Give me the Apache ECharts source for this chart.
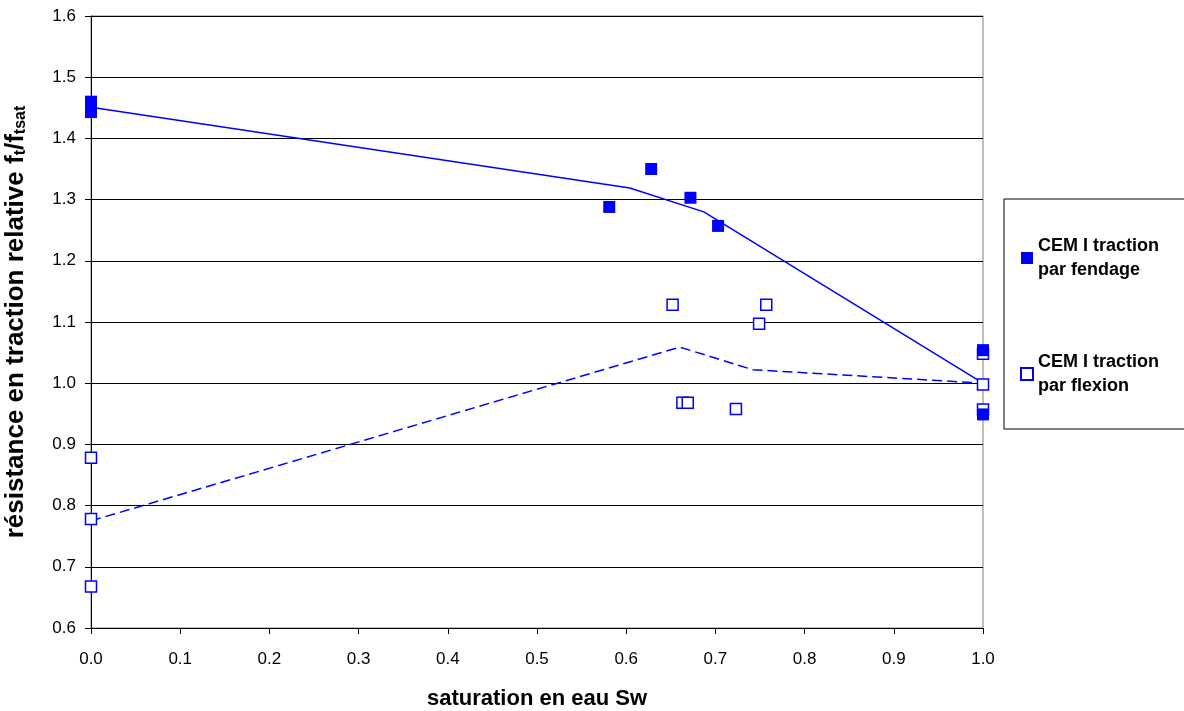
<!DOCTYPE html>
<html>
<head>
<meta charset="utf-8">
<script src="https://cdn.jsdelivr.net/npm/echarts@6/dist/echarts.min.js"></script>
<style>html,body{margin:0;padding:0;background:#fff}#c{width:1184px;height:711px}</style>
</head>
<body>
<div id="c"></div>
<script>
var xTicks = ['0.0','0.1','0.2','0.3','0.4','0.5','0.6','0.7','0.8','0.9','1.0'];
var yTicks = ['0.6','0.7','0.8','0.9','1.0','1.1','1.2','1.3','1.4','1.5','1.6'];

var fendageName = 'CEM I traction\npar fendage';
var fendageX = [0, 0, 0.581, 0.628, 0.672, 0.703, 1.0, 1.0];
var fendageY = [1.460, 1.443, 1.288, 1.350, 1.303, 1.257, 1.054, 0.949];

var flexionName = 'CEM I traction\npar flexion';
var flexionX = [0, 0, 0, 0.652, 0.663, 0.669, 0.723, 0.749, 0.757, 1.0, 1.0, 1.0];
var flexionY = [0.878, 0.778, 0.668, 1.128, 0.968, 0.968, 0.958, 1.097, 1.128, 1.048, 0.998, 0.957];

var trendFendageX = [0, 0.604, 0.687, 1.0];
var trendFendageY = [1.451, 1.319, 1.280, 1.0];

var trendFlexionX = [0, 0.660, 0.742, 1.0];
var trendFlexionY = [0.775, 1.059, 1.022, 1.0];

function pairs(xs, ys) { return xs.map(function (x, i) { return [x, ys[i]]; }); }

var font = 'Arial, "Liberation Sans", sans-serif';
var blue = '#0000ff';

var chart = echarts.init(document.getElementById('c'), null, { renderer: 'canvas' });
chart.setOption({
  animation: false,
  backgroundColor: '#ffffff',
  grid: { left: 91, right: 201, top: 16, bottom: 83, containLabel: false, outerBoundsMode: 'none', show: true, borderColor: '#808080', borderWidth: 1, backgroundColor: 'transparent' },
  xAxis: {
    type: 'value', min: 0, max: 1, interval: 0.1,
    name: 'saturation en eau Sw', nameLocation: 'middle', nameGap: 60,
    nameTextStyle: { fontFamily: font, fontSize: 22, fontWeight: 'bold', color: '#000' },
    axisLine: { show: true, onZero: false, lineStyle: { color: '#000', width: 1 } },
    axisTick: { show: true, inside: false, length: 6, lineStyle: { color: '#000' } },
    axisLabel: { margin: 23, fontFamily: font, fontSize: 17, color: '#000', formatter: function (v) { return xTicks[Math.round(v * 10)]; } },
    splitLine: { show: false }
  },
  yAxis: {
    type: 'value', min: 0.6, max: 1.6, interval: 0.1,
    name: '{n|résistance en traction relative f}{s|t}{n|/f}{s|tsat}', nameLocation: 'middle', nameGap: 62, nameRotate: 90,
    nameTextStyle: {
      fontFamily: font, fontSize: 26, fontWeight: 'bold', color: '#000',
      rich: {
        n: { fontFamily: font, fontSize: 26, fontWeight: 'bold', color: '#000', lineHeight: 30, verticalAlign: 'bottom' },
        s: { fontFamily: font, fontSize: 16, fontWeight: 'bold', color: '#000', lineHeight: 30, verticalAlign: 'bottom', padding: [12, 0, 0, 0] }
      }
    },
    axisLine: { show: true, lineStyle: { color: '#000', width: 1 } },
    axisTick: { show: true, inside: false, length: 6, lineStyle: { color: '#000' } },
    axisLabel: { margin: 15, fontFamily: font, fontSize: 17, color: '#000', formatter: function (v) { return yTicks[Math.round((v - 0.6) * 10)]; } },
    splitLine: { show: true, lineStyle: { color: '#000', width: 1 } }
  },
  legend: {
    orient: 'vertical', left: 1004, top: 199,
    padding: [35, 60, 31, 16], itemGap: 68, itemWidth: 12, itemHeight: 12,
    borderColor: '#000', borderWidth: 1, backgroundColor: '#fff',
    textStyle: { fontFamily: font, fontSize: 18, fontWeight: 'bold', color: '#000', lineHeight: 24, padding: [0, 0, 0, 0] },
    data: [
      { name: fendageName, icon: 'rect' },
      { name: flexionName, icon: 'rect' }
    ]
  },
  series: [
    {
      type: 'line', name: 'trend1', data: pairs(trendFendageX, trendFendageY), showSymbol: false, silent: true, z: 2,
      lineStyle: { color: blue, width: 1.5, type: 'solid' }
    },
    {
      type: 'line', name: 'trend2', data: pairs(trendFlexionX, trendFlexionY), showSymbol: false, silent: true, z: 2,
      lineStyle: { color: blue, width: 1.5, type: [10, 5] }
    },
    {
      type: 'scatter', name: flexionName, data: pairs(flexionX, flexionY), symbol: 'rect', symbolSize: 11, z: 3,
      itemStyle: { color: '#ffffff', borderColor: blue, borderWidth: 1.5, opacity: 1 }
    },
    {
      type: 'scatter', name: fendageName, data: pairs(fendageX, fendageY), symbol: 'rect', symbolSize: 12, z: 4,
      itemStyle: { color: blue, borderColor: blue, borderWidth: 0, opacity: 1 }
    }
  ]
});
</script>
</body>
</html>
